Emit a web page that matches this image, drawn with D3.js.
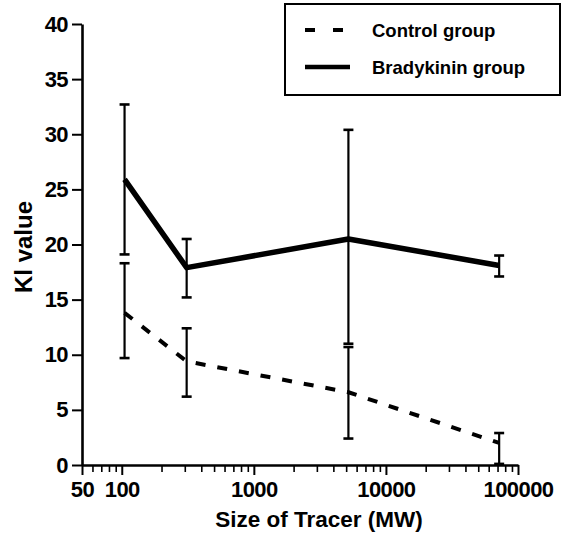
<!DOCTYPE html>
<html>
<head>
<meta charset="utf-8">
<script src="https://cdn.jsdelivr.net/npm/d3@7"></script>
<style>
  body { margin: 0; background: #fff; }
  svg text { font-family: 'Liberation Sans', Arial, sans-serif; font-weight: bold; fill: #000; }
</style>
</head>
<body>
<svg></svg>
<script>
const w = 562
const h = 538

// tracer sizes (MW)
const tracers = [105, 310, 5200, 72000]

// Control group: mean, lower and upper error bar ends
const controlMean = [13.8, 9.4, 6.6, 2.0]
const controlLo = [9.7, 6.2, 2.4, 0.1]
const controlHi = [18.3, 12.4, 10.7, 2.9]

// Bradykinin group
const bradyMean = [25.9, 17.9, 20.5, 18.1]
const bradyLo = [19.1, 15.2, 11.0, 17.1]
const bradyHi = [32.7, 20.5, 30.4, 19.0]

const xMajor = [50, 100, 1000, 10000, 100000]
const yTicks = [0, 5, 10, 15, 20, 25, 30, 35, 40]
const legendLabels = ['Control group', 'Bradykinin group']

const svg = d3.select('svg').attr('width', w).attr('height', h)

const x = d3.scaleLog().domain([50, 100000]).range([82, 518])
const y = d3.scaleLinear().domain([0, 40]).range([465, 24])

// minor ticks: 2..9 within each decade, plus 60..90
const xMinor = []
for (let dec = 10; dec <= 10000; dec *= 10) {
  for (let k = 2; k <= 9; k++) {
    const v = k * dec
    if (v > 50 && v < 100000 && !xMajor.includes(v)) xMinor.push(v)
  }
}

const xAxisMinor = d3.axisBottom(x).tickValues(xMinor).tickSize(7).tickSizeOuter(0).tickFormat('')
const xAxis = d3.axisBottom(x).tickValues(xMajor).tickSize(10).tickSizeOuter(0).tickPadding(6)
  .tickFormat(d3.format('d'))
const yAxis = d3.axisLeft(y).tickValues(yTicks).tickSize(10).tickSizeOuter(0).tickPadding(4)

const gxm = svg.append('g').attr('transform', `translate(0, ${y(0)})`).call(xAxisMinor)
gxm.select('.domain').remove()
gxm.selectAll('line').attr('stroke-width', 1.6)

const gx = svg.append('g').attr('transform', `translate(0, ${y(0)})`).call(xAxis)
gx.select('.domain').attr('stroke-width', 2.6)
gx.selectAll('line').attr('stroke-width', 2)
gx.selectAll('text').attr('font-size', 22).attr('letter-spacing', -0.6)

const gy = svg.append('g').attr('transform', `translate(${x(50)}, 0)`).call(yAxis)
gy.select('.domain').attr('stroke-width', 2.6)
gy.selectAll('line').attr('stroke-width', 2)
gy.selectAll('text').attr('font-size', 22).attr('letter-spacing', -0.6)

svg.append('text')
  .attr('x', 319).attr('y', 527)
  .attr('text-anchor', 'middle')
  .attr('font-size', 22.5)
  .text('Size of Tracer (MW)')

svg.append('text')
  .attr('transform', 'translate(32, 247) rotate(-90)')
  .attr('text-anchor', 'middle')
  .attr('font-size', 24)
  .text('Kl value')

const series = [
  { mean: controlMean, lo: controlLo, hi: controlHi, width: 4, dash: '10,12' },
  { mean: bradyMean, lo: bradyLo, hi: bradyHi, width: 5.5, dash: null }
]

const line = d3.line().x(d => x(d[0])).y(d => y(d[1]))

series.forEach(s => {
  const pts = tracers.map((t, i) => [t, s.mean[i]])
  svg.append('path')
    .datum(pts)
    .attr('d', line)
    .attr('fill', 'none')
    .attr('stroke', '#000')
    .attr('stroke-width', s.width)
    .attr('stroke-dasharray', s.dash)
    .attr('stroke-linejoin', 'round')

  const bars = svg.append('g').attr('stroke', '#000')
  tracers.forEach((t, i) => {
    const cx = x(t)
    bars.append('line')
      .attr('x1', cx).attr('x2', cx)
      .attr('y1', y(s.lo[i])).attr('y2', y(s.hi[i]))
      .attr('stroke-width', 2.2)
    ;[s.lo[i], s.hi[i]].forEach(v => {
      bars.append('line')
        .attr('x1', cx - 5).attr('x2', cx + 5)
        .attr('y1', y(v)).attr('y2', y(v))
        .attr('stroke-width', 2.6)
    })
  })
})

// legend
const lg = svg.append('g')
lg.append('rect')
  .attr('x', 285).attr('y', 4).attr('width', 275).attr('height', 91)
  .attr('fill', '#fff').attr('stroke', '#000').attr('stroke-width', 2)

legendLabels.forEach((label, i) => {
  const ly = 30 + i * 37
  lg.append('line')
    .attr('x1', 305).attr('x2', i === 0 ? 343 : 350)
    .attr('y1', ly).attr('y2', ly)
    .attr('stroke', '#000')
    .attr('stroke-width', i === 0 ? 4 : 4.5)
    .attr('stroke-dasharray', i === 0 ? '10,18' : null)
  lg.append('text')
    .attr('x', 372).attr('y', ly + 6.5)
    .attr('font-size', 18.5)
    .text(label)
})
</script>
</body>
</html>
